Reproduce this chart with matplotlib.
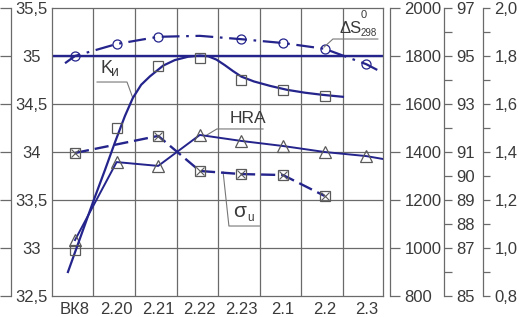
import numpy as np
import matplotlib.pyplot as plt
from matplotlib.ticker import FixedLocator, FixedFormatter

plt.rcParams['font.family'] = ['Liberation Sans', 'DejaVu Sans']

# категории (сплавы)
categories = ['ВК8', '2.20', '2.21', '2.22', '2.23', '2.1', '2.2', '2.3']

# ΔS°298 (левая шкала 32,5..35,5) - точки и сглаженная кривая
ds_idx = [0, 1, 2, 4, 5, 6, 7]
ds_vals = [35.0, 35.125, 35.2, 35.175, 35.135, 35.075, 34.915]
ds_curve_x = [-0.24, 0, 1, 2, 3, 4, 5, 6, 7, 7.4]
ds_curve = [34.925, 35.0, 35.125, 35.2, 35.21, 35.175, 35.135, 35.075, 34.915, 34.825]
ref_level = 35.0

# K_и (шкала 0,8..2,0)
k_idx = [0, 1, 2, 3, 4, 5, 6]
k_vals = [0.99, 1.50, 1.76, 1.79, 1.70, 1.66, 1.635]
k_curve_x = [-0.17, 0.12, 0.43, 0.72, 0.96, 1.2, 1.39, 1.59, 1.8, 2.12, 2.4, 2.72,
             3.0, 3.2, 3.4, 3.6, 3.8, 4.0, 4.3, 4.7, 5.1, 5.53, 5.96, 6.44]
k_curve = [0.9, 1.04, 1.19, 1.325, 1.44, 1.55, 1.625, 1.68, 1.715, 1.76, 1.783, 1.797,
           1.802, 1.799, 1.785, 1.762, 1.737, 1.714, 1.694, 1.675, 1.659, 1.647, 1.638, 1.63]

# σ_u, МПа (шкала 800..2000)
su_idx = [0, 2, 3, 4, 5, 6]
su_vals = [1396, 1467, 1321, 1308, 1304, 1217]

# HRA (шкала 85..97)
hra_idx = [0, 1, 2, 3, 4, 5, 6, 7]
hra_vals = [87.33, 90.58, 90.42, 91.71, 91.46, 91.25, 91.0, 90.83]
hra_end_x, hra_end = 7.4, 90.71

# подписи шкал
left_ticks = [32.5, 33, 33.5, 34, 34.5, 35, 35.5]
left_labels = ['32,5', '33', '33,5', '34', '34,5', '35', '35,5']
su_ticks = [800, 1000, 1200, 1400, 1600, 1800, 2000]
su_labels = ['800', '1000', '1200', '1400', '1600', '1800', '2000']
hra_ticks = list(range(85, 98))
hra_labels = ['85', '', '87', '88', '89', '90', '91', '', '93', '', '95', '', '97']
k_ticks = [round(0.8 + 0.1 * i, 1) for i in range(13)]
k_labels = ['0,8', '', '1,0', '', '1,2', '', '1,4', '', '1,6', '', '1,8', '', '2,0']

BLUE = '#24248c'
GRID = '#6a6a6a'
TXT = '#3a3a3a'
MK = '#5a5a5a'
FS = 12

fig = plt.figure(figsize=(5.19, 3.17), dpi=100)
ax = fig.add_axes([52 / 519, 21 / 317, 331 / 519, 288 / 317])
ax.set_xlim(-0.553, 7.404)
ax.set_ylim(32.5, 35.5)
ax.set_xticks(range(len(categories)))
ax.set_xticklabels(categories)
ax.set_xticks(np.arange(7) + 0.44, minor=True)
ax.set_yticks([33, 33.5, 34, 34.5, 35])
ax.tick_params(axis='both', which='both', length=0, labelleft=False)
ax.tick_params(axis='x', pad=4.5, labelsize=FS, labelcolor=TXT)
ax.grid(True, which='minor', axis='x', color=GRID, lw=0.9)
ax.grid(True, which='major', axis='y', color=GRID, lw=0.9)
for s in ax.spines.values():
    s.set_color(GRID)
    s.set_linewidth(0.9)


def scale_axis(pos, lim, ticks, labels, direction, length, pad, ha='left'):
    a = ax.twinx()
    a.set_ylim(*lim)
    for k in ('top', 'bottom', 'left'):
        a.spines[k].set_visible(False)
    a.spines['right'].set_position(('axes', pos))
    a.spines['right'].set_color(GRID)
    a.spines['right'].set_linewidth(0.9)
    a.yaxis.set_major_locator(FixedLocator(ticks))
    a.yaxis.set_major_formatter(FixedFormatter(labels))
    a.tick_params(axis='y', direction=direction, length=length, width=0.9, pad=pad,
                  color=GRID, labelcolor=TXT, labelsize=FS)
    for t in a.get_yticklabels():
        t.set_ha(ha)
    return a


ax_l = scale_axis(-0.1239, (32.5, 35.5), left_ticks, left_labels, 'in', 8, 15, ha='center')
ax_s = scale_axis(1.021, (800, 2000), su_ticks, su_labels, 'out', 7.2, 3.2)
ax_h = scale_axis(1.184, (85, 97), hra_ticks, hra_labels, 'out', 5.5, 3.2)
ax_k = scale_axis(1.302, (0.8, 2.0), k_ticks, k_labels, 'out', 5, 3.2)

# линия 35
ax.axhline(ref_level, color=BLUE, lw=1.7)

# ΔS
ax.plot(ds_curve_x, ds_curve, color=BLUE, lw=1.6, dashes=(8, 3, 1.2, 3))
ax.plot(ds_idx, ds_vals, ls='none', marker='o', ms=6.5, mfc='none', mec=BLUE, mew=0.9)

# K_и
ax_k.plot(k_curve_x, k_curve, color=BLUE, lw=1.6)
ax_k.plot(k_idx, k_vals, ls='none', marker='s', ms=7, mfc='none', mec=MK, mew=0.9)

# σ_u
ax_s.plot(su_idx, su_vals, color=BLUE, lw=1.7, dashes=(6, 2.5))
ax_s.plot(su_idx, su_vals, ls='none', marker='s', ms=7, mfc='none', mec=MK, mew=0.9)
ax_s.plot(su_idx, su_vals, ls='none', marker='x', ms=5.5, mec=MK, mew=0.8)

# HRA
ax_h.plot(hra_idx + [hra_end_x], hra_vals + [hra_end], color=BLUE, lw=1.4)
ax_h.plot(hra_idx, hra_vals, ls='none', marker='^', ms=8, mfc='none', mec=MK, mew=0.9)

# подписи кривых с выносками
lead = dict(color='#777777', lw=0.8)
ax.text(0.61, 34.823, 'K', fontsize=13, color=TXT)
ax.text(0.87, 34.79, 'и', fontsize=10, color=TXT)
ax.plot([0.53, 1.25, 1.39], [34.729, 34.729, 34.5625], **lead)

ax.text(3.71, 34.302, 'HRA', fontsize=12.5, color=TXT)
ax.plot([4.52, 3.41, 3.17], [34.24, 34.24, 34.177], **lead)

ax.text(3.8, 33.323, 'σ', fontsize=15, color=TXT)
ax.text(4.13, 33.281, 'u', fontsize=8.5, color=TXT)
ax.plot([3.56, 3.70, 4.45], [33.792, 33.229, 33.229], **lead)

ax.text(6.37, 35.24, 'ΔS', fontsize=12, color=TXT)
ax.text(6.86, 35.396, '0', fontsize=8, color=TXT)
ax.text(6.86, 35.205, '298', fontsize=7, color=TXT)
ax.plot([7.28, 6.2, 5.99], [35.177, 35.177, 35.094], clip_on=False, **lead)

fig.savefig('out.png', dpi=100)
